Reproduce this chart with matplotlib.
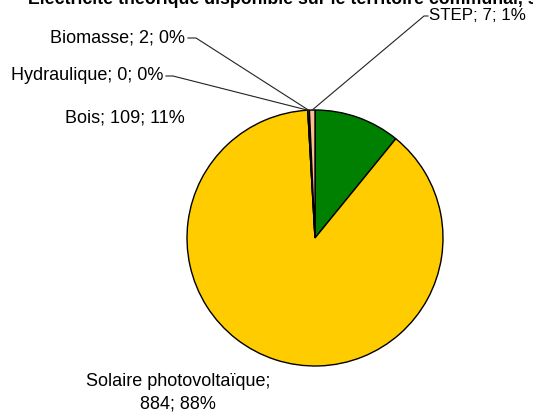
import numpy as np
import matplotlib.pyplot as plt
from matplotlib import font_manager

plt.rcParams['font.family'] = ['Liberation Sans', 'DejaVu Sans']

categories = ['Bois', 'Solaire photovoltaïque', 'Hydraulique', 'Biomasse', 'STEP']
values = [109, 884, 0, 2, 7]
colors = ['#008000', '#FFCC00', '#4F81BD', '#9BBB59', '#FAC090']
title = "Electricité théorique disponible sur le territoire communal, sans stockage"

W, H = 533, 416
fig = plt.figure(figsize=(W / 100, H / 100), dpi=100)
ax = fig.add_axes([0, 0, 1, 1])

cx, cy, r = 315, H - 238, 128
wedges, _ = ax.pie(values, colors=colors, startangle=90, counterclock=False,
                   center=(cx, cy), radius=r,
                   wedgeprops=dict(edgecolor='black', linewidth=1.0))
ax.set_xlim(0, W)
ax.set_ylim(0, H)
ax.set_aspect('equal')
ax.axis('off')

total = sum(values)
pct = [round(v / total * 100) for v in values]
labels = [f"{c}; {v}; {p}%" for c, v, p in zip(categories, values, pct)]


def edge_point(i):
    w = wedges[i]
    a = np.deg2rad((w.theta1 + w.theta2) / 2)
    return cx + r * np.cos(a), cy + r * np.sin(a)


fs = 13
# Bois, no leader line
ax.text(185, H - 118, labels[0], ha='right', va='center', fontsize=fs)
# Solaire, two lines
ax.text(178, H - 393, "Solaire photovoltaïque;\n884; 88%", ha='center', va='center',
        fontsize=fs, linespacing=1.4)

# small slices with leader lines
for i, (tx, ty, lx, ha, s) in {4: (429, H - 16, 424, 'left', 12.2),
                                3: (185, H - 38, 196, 'right', fs),
                                2: (163, H - 76, 173, 'right', fs)}.items():
    ax.text(tx, ty, labels[i], ha=ha, va='center', fontsize=s)
    px, py = edge_point(i)
    sx = tx - 1 if ha == 'left' else tx + 3
    ax.plot([sx, lx, px], [ty, ty, py], color='#222222', linewidth=0.8)

names = [f.name for f in font_manager.fontManager.ttflist]
tfam = 'Liberation Sans Narrow' if 'Liberation Sans Narrow' in names else 'Liberation Sans'
ax.text(28, H - 4, title, ha='left', va='baseline', fontsize=12.8,
        fontweight='bold', family=tfam)

fig.savefig('out.png', dpi=100)
